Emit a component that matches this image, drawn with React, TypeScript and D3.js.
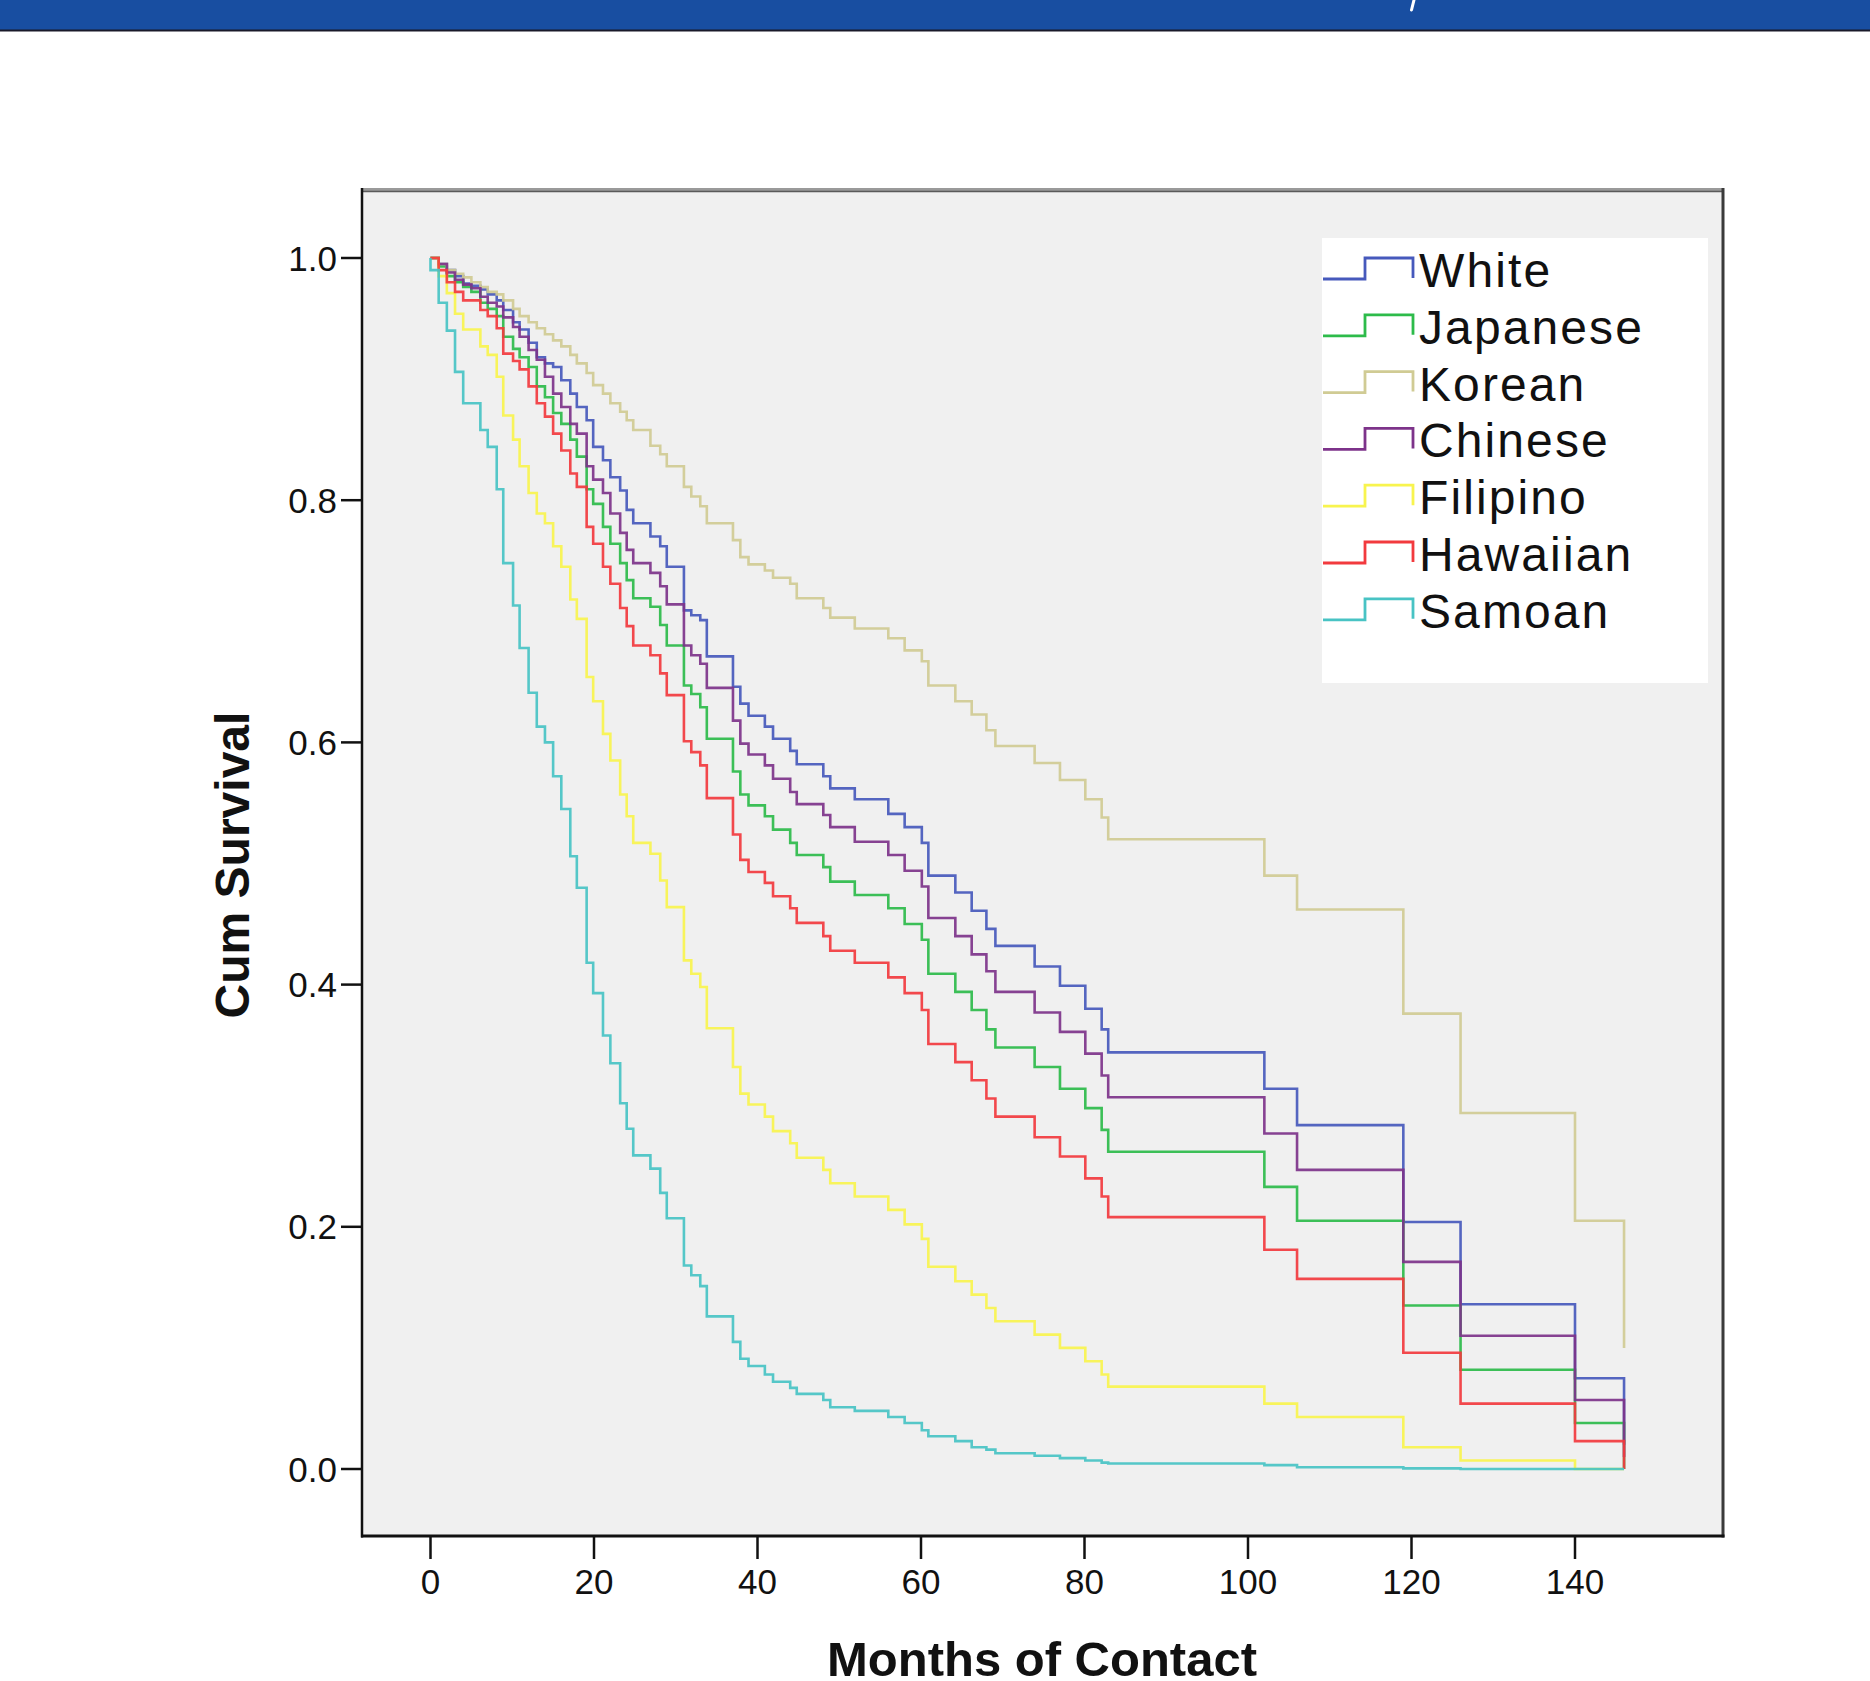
import React from "react";
import * as d3 from "d3";

// ---- Data ----
const MONTHS = [
  0, 1, 2, 3, 4, 5, 6.1, 7, 8.1, 8.9,
  10.1, 10.9, 12, 13, 14, 15, 16, 17.1, 17.9, 19.1,
  19.9, 21.1, 22, 23.2, 24, 24.8, 26.9, 28.1, 28.9, 31,
  31.9, 33, 33.8, 37, 37.9, 38.9, 40.9, 41.9, 44, 44.8,
  48.05, 48.9, 51.9, 56, 58, 60.1, 60.9, 64.2, 66.2, 68,
  69.1, 73.9, 77, 80.1, 82.1, 82.9, 102, 106, 119, 126,
  140, 146,
];

const WHITE = [
  1.0, 0.995, 0.99, 0.985, 0.979, 0.977, 0.974, 0.97, 0.965, 0.957,
  0.947, 0.941, 0.93, 0.918, 0.913, 0.91, 0.899, 0.888, 0.877, 0.866,
  0.844, 0.833, 0.819, 0.808, 0.792, 0.781, 0.77, 0.762, 0.745, 0.709,
  0.705, 0.701, 0.671, 0.646, 0.632, 0.622, 0.613, 0.603, 0.593, 0.582,
  0.572, 0.562, 0.553, 0.541, 0.53, 0.517, 0.49, 0.476, 0.461, 0.446,
  0.432, 0.415, 0.399, 0.38, 0.363, 0.344, 0.314, 0.284, 0.204, 0.136,
  0.075, 0.02,
];

const JAPANESE = [
  1.0, 0.993, 0.985, 0.98, 0.976, 0.972, 0.963, 0.958, 0.952, 0.935,
  0.925, 0.918, 0.91, 0.894, 0.885, 0.872, 0.863, 0.85, 0.836, 0.809,
  0.797, 0.778, 0.764, 0.748, 0.734, 0.719, 0.712, 0.697, 0.68, 0.647,
  0.64, 0.629, 0.603, 0.576, 0.557, 0.548, 0.539, 0.528, 0.517, 0.507,
  0.497, 0.485, 0.474, 0.463, 0.45, 0.437, 0.409, 0.394, 0.379, 0.363,
  0.348, 0.332, 0.314, 0.298, 0.28, 0.262, 0.233, 0.205, 0.135, 0.082,
  0.038, 0.0,
];

const KOREAN = [
  1.0, 0.995, 0.99, 0.987, 0.984, 0.98, 0.976, 0.972, 0.97, 0.965,
  0.958, 0.952, 0.947, 0.942, 0.937, 0.932, 0.927, 0.92, 0.913, 0.905,
  0.895, 0.888, 0.88, 0.873, 0.866, 0.858, 0.845, 0.838, 0.828, 0.811,
  0.803, 0.795, 0.781, 0.767, 0.753, 0.747, 0.742, 0.736, 0.731, 0.719,
  0.711, 0.703, 0.694, 0.686, 0.676, 0.667, 0.647, 0.634, 0.623, 0.61,
  0.597, 0.583, 0.569, 0.553, 0.538, 0.52, 0.49, 0.462, 0.376, 0.294,
  0.205, 0.1,
];

const CHINESE = [
  1.0, 0.995, 0.988, 0.982, 0.978, 0.975, 0.968, 0.963, 0.96, 0.951,
  0.943, 0.935, 0.924, 0.916, 0.902, 0.888, 0.877, 0.863, 0.855, 0.828,
  0.817, 0.806, 0.789, 0.773, 0.759, 0.748, 0.74, 0.729, 0.714, 0.68,
  0.672, 0.665, 0.645, 0.618, 0.599, 0.59, 0.581, 0.57, 0.559, 0.549,
  0.54, 0.53, 0.518, 0.507, 0.494, 0.481, 0.455, 0.44, 0.425, 0.411,
  0.394, 0.377, 0.361, 0.343, 0.325, 0.307, 0.277, 0.247, 0.171, 0.11,
  0.057, 0.01,
];

const FILIPINO = [
  1.0, 0.985, 0.971, 0.954, 0.941, 0.941, 0.927, 0.92, 0.902, 0.87,
  0.85, 0.828, 0.806, 0.789, 0.781, 0.762, 0.745, 0.718, 0.702, 0.654,
  0.634, 0.607, 0.585, 0.557, 0.539, 0.517, 0.508, 0.486, 0.464, 0.42,
  0.409, 0.398, 0.364, 0.332, 0.31, 0.301, 0.291, 0.279, 0.269, 0.257,
  0.247, 0.236, 0.225, 0.214, 0.202, 0.19, 0.167, 0.155, 0.144, 0.133,
  0.122, 0.111, 0.1, 0.089, 0.078, 0.068, 0.054, 0.043, 0.018, 0.007,
  0.0, 0.0,
];

const HAWAIIAN = [
  1.0, 0.99, 0.98, 0.972, 0.965, 0.965, 0.957, 0.952, 0.942, 0.921,
  0.915, 0.908, 0.894, 0.88, 0.869, 0.855, 0.841, 0.822, 0.811, 0.778,
  0.764, 0.745, 0.731, 0.711, 0.696, 0.68, 0.672, 0.657, 0.639, 0.601,
  0.592, 0.581, 0.554, 0.524, 0.503, 0.493, 0.484, 0.473, 0.463, 0.451,
  0.44, 0.428, 0.418, 0.406, 0.393, 0.379, 0.351, 0.336, 0.321, 0.306,
  0.291, 0.274, 0.258, 0.24, 0.225, 0.208, 0.181, 0.157, 0.096, 0.054,
  0.023, 0.0,
];

const SAMOAN = [
  0.99, 0.963, 0.94, 0.906, 0.88, 0.88, 0.858, 0.844, 0.809, 0.748,
  0.713, 0.678, 0.641, 0.613, 0.6, 0.572, 0.545, 0.506, 0.48, 0.418,
  0.393, 0.358, 0.335, 0.302, 0.281, 0.259, 0.248, 0.228, 0.207, 0.168,
  0.16, 0.151, 0.126, 0.105, 0.091, 0.085, 0.078, 0.072, 0.067, 0.062,
  0.057, 0.051, 0.048, 0.043, 0.038, 0.032, 0.027, 0.023, 0.018, 0.016,
  0.013, 0.011, 0.009, 0.007, 0.0053, 0.0045, 0.0032, 0.0015, 0.0005, 0.0,
  0.0, 0.0,
];

const SERIES_NAMES = ["White", "Japanese", "Korean", "Chinese", "Filipino", "Hawaiian", "Samoan"];
const SERIES_VALUES = [WHITE, JAPANESE, KOREAN, CHINESE, FILIPINO, HAWAIIAN, SAMOAN];
const SERIES_COLORS = ["#4659BC", "#2DBB4A", "#D0CB94", "#7D338A", "#F8F44E", "#F23A3E", "#48C3C4"];

const X_TICKS = [0, 20, 40, 60, 80, 100, 120, 140];
const Y_TICKS = [0, 0.2, 0.4, 0.6, 0.8, 1.0];

const X_TITLE = "Months of Contact";
const Y_TITLE = "Cum Survival";

// ---- Layout ----
const W = 1870;
const H = 1681;
const PLOT = { left: 362, right: 1722, top: 188, bottom: 1536 };
const FONT = "'Liberation Sans', Arial, Helvetica, sans-serif";

export default function App() {
  const x = d3.scaleLinear().domain([0, 140]).range([430.5, 1575]);
  const y = d3.scaleLinear().domain([0, 1]).range([1469, 258]);
  const line = d3
    .line<[number, number]>()
    .x((d) => x(d[0]))
    .y((d) => y(d[1]))
    .curve(d3.curveStepAfter);

  const paths = SERIES_VALUES.map((vals) => {
    const pts: [number, number][] = [[0, 1]];
    MONTHS.forEach((t, i) => pts.push([t, vals[i]]));
    return line(pts) || "";
  });

  const fmt = d3.format(".1f");
  const legendX0 = 1323;
  const legendY0 = 270;
  const legendStep = 56.8;

  return (
    <svg
      width={W}
      height={H}
      style={{ position: "absolute", left: 0, top: 0, display: "block", background: "#fff" }}
      xmlns="http://www.w3.org/2000/svg"
    >
      {/* header bar */}
      <rect x={0} y={0} width={W} height={30} fill="#184EA1" />
      <rect x={0} y={29.5} width={W} height={2} fill="#1a1a2a" />
      <line x1={1414} y1={0} x2={1411.5} y2={10} stroke="#fff" strokeWidth={3} strokeLinecap="round" />

      {/* plot area */}
      <rect
        x={PLOT.left}
        y={PLOT.top}
        width={PLOT.right - PLOT.left}
        height={PLOT.bottom - PLOT.top}
        fill="#F0F0F0"
      />

      {/* curves */}
      <g fill="none" strokeWidth={2.6} strokeLinejoin="miter" strokeLinecap="butt">
        {paths.map((d, i) => (
          <path key={SERIES_NAMES[i]} d={d} stroke={SERIES_COLORS[i]} strokeOpacity={0.92} />
        ))}
      </g>

      {/* legend */}
      <rect x={1322} y={238} width={386} height={445} fill="#ffffff" />
      {SERIES_NAMES.map((name, i) => {
        const yc = legendY0 + i * legendStep;
        const lo = yc + 9;
        const hi = yc - 12;
        const d = `M${legendX0},${lo}H${legendX0 + 42}V${hi}H${legendX0 + 90}V${lo - 1}`;
        return (
          <g key={name}>
            <path d={d} fill="none" stroke={SERIES_COLORS[i]} strokeWidth={2.8} />
            <text
              x={legendX0 + 96}
              y={yc + 17}
              fontFamily={FONT}
              fontSize={48}
              letterSpacing={2.1}
              fill="#111"
            >
              {name}
            </text>
          </g>
        );
      })}

      {/* frame */}
      <line x1={PLOT.left} y1={PLOT.top + 1.5} x2={PLOT.right + 1.5} y2={PLOT.top + 1.5} stroke="#9a9a9a" strokeWidth={3} />
      <line x1={PLOT.left} y1={PLOT.top + 3.5} x2={PLOT.right} y2={PLOT.top + 3.5} stroke="#5a5a5a" strokeWidth={1.5} />
      <line x1={PLOT.right + 1} y1={PLOT.top} x2={PLOT.right + 1} y2={PLOT.bottom + 1.5} stroke="#3a3a3a" strokeWidth={3} />
      <line x1={PLOT.left} y1={PLOT.top} x2={PLOT.left} y2={PLOT.bottom + 1.5} stroke="#111" strokeWidth={2.5} />
      <line x1={PLOT.left - 1} y1={PLOT.bottom} x2={PLOT.right + 2.5} y2={PLOT.bottom} stroke="#111" strokeWidth={3} />

      {/* y axis ticks */}
      {Y_TICKS.map((t) => (
        <g key={"y" + t}>
          <line x1={PLOT.left - 21} x2={PLOT.left} y1={y(t)} y2={y(t)} stroke="#111" strokeWidth={2.5} />
          <text
            x={337}
            y={y(t)}
            dy="0.36em"
            textAnchor="end"
            fontFamily={FONT}
            fontSize={35}
            fill="#111"
          >
            {fmt(t)}
          </text>
        </g>
      ))}

      {/* x axis ticks */}
      {X_TICKS.map((t) => (
        <g key={"x" + t}>
          <line x1={x(t)} x2={x(t)} y1={PLOT.bottom} y2={PLOT.bottom + 23} stroke="#111" strokeWidth={2.5} />
          <text
            x={x(t)}
            y={1594}
            textAnchor="middle"
            fontFamily={FONT}
            fontSize={35}
            fill="#111"
          >
            {t}
          </text>
        </g>
      ))}

      {/* axis titles */}
      <text
        x={(PLOT.left + PLOT.right) / 2}
        y={1676}
        textAnchor="middle"
        fontFamily={FONT}
        fontWeight="bold"
        fontSize={49}
        fill="#111"
      >
        {X_TITLE}
      </text>
      <text
        transform={`translate(232,865) rotate(-90)`}
        dy="0.36em"
        textAnchor="middle"
        fontFamily={FONT}
        fontWeight="bold"
        fontSize={48}
        fill="#111"
      >
        {Y_TITLE}
      </text>
    </svg>
  );
}
